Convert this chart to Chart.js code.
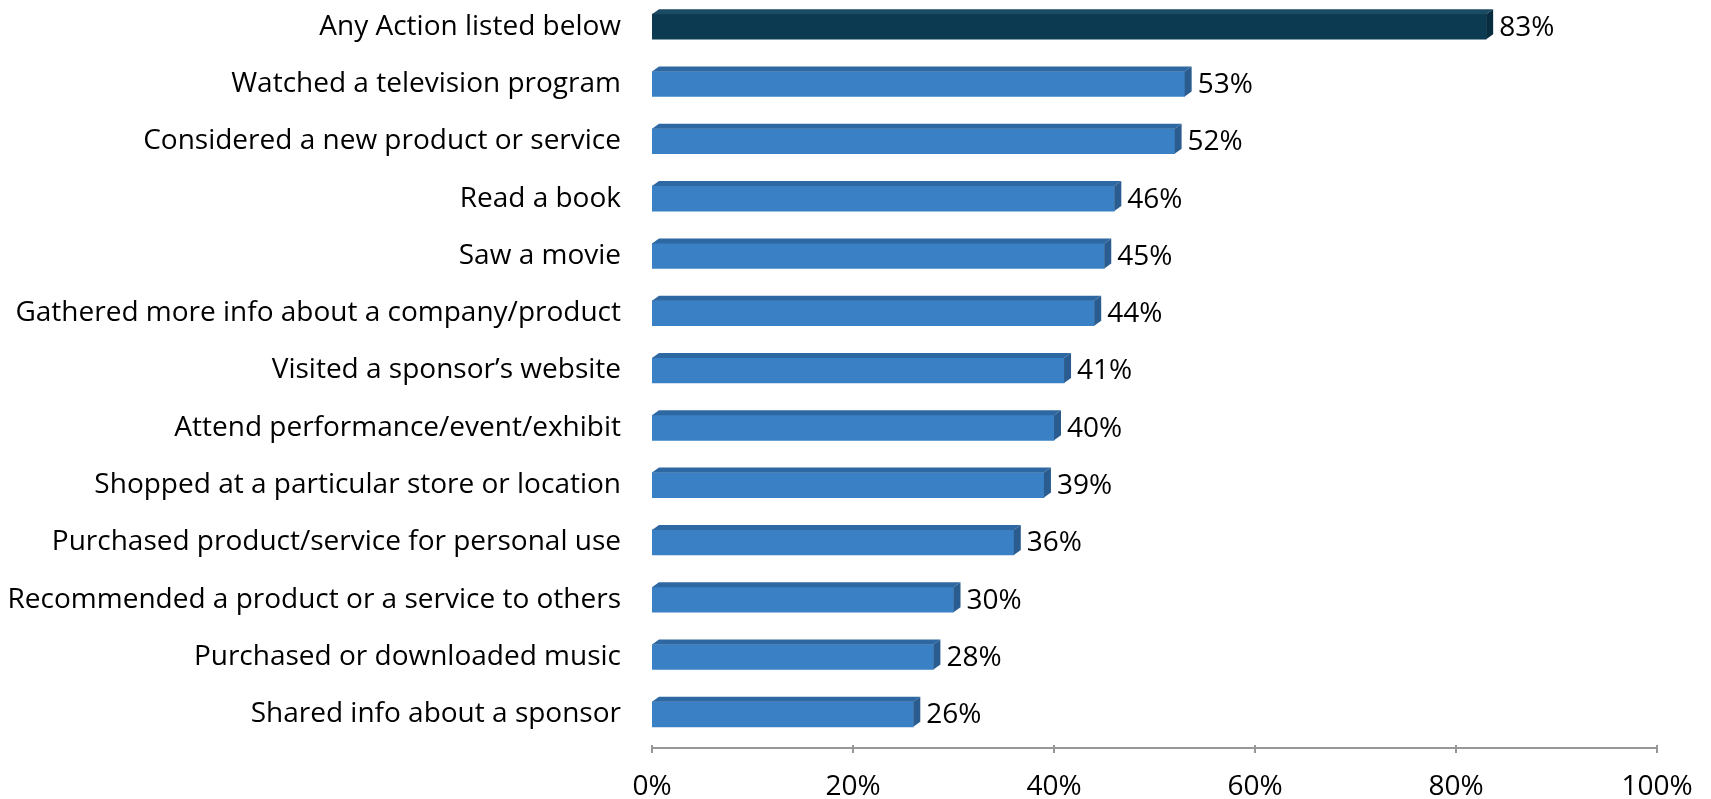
<!DOCTYPE html>
<html lang="en">
<head>
  <meta charset="UTF-8">
  <title>Actions Taken</title>
  <script src="https://cdn.jsdelivr.net/npm/chart.js"></script>
  <style>
    html, body {
      margin: 0;
      padding: 0;
      background: #ffffff;
      overflow: hidden;
    }
    .chart-wrap {
      position: absolute;
      left: 0;
      top: -2px;
      width: 1711px;
      height: 801px;
    }
  </style>
</head>
<body>
  <div class="chart-wrap">
    <canvas id="actionsChart"></canvas>
  </div>
  <script>
    const categories = [
      'Any Action listed below',
      'Watched a television program',
      'Considered a new product or service',
      'Read a book',
      'Saw a movie',
      'Gathered more info about a company/product',
      'Visited a sponsor\u2019s website',
      'Attend performance/event/exhibit',
      'Shopped at a particular store or location',
      'Purchased product/service for personal use',
      'Recommended a product or a service to others',
      'Purchased or downloaded music',
      'Shared info about a sponsor'
    ];
    const percentages = [83, 53, 52, 46, 45, 44, 41, 40, 39, 36, 30, 28, 26];
    const axisTicks = [0, 20, 40, 60, 80, 100];

    const FONT = '"Open Sans", "Noto Sans", sans-serif';
    const FONT_SIZE = 28;
    const DEPTH_X = 7;
    const DEPTH_Y = 5;

    // front, top and side colours: first bar is the highlighted total
    const faceColors = categories.map((c, i) => i === 0
      ? { front: '#0b3a51', top: '#1b4b62', side: '#072d3f' }
      : { front: '#3a80c4', top: '#2e68a2', side: '#2a5c8f' });

    // draws the top and side faces of every bar plus its value label
    const bar3d = {
      id: 'bar3d',
      afterDatasetsDraw(chart) {
        const ctx = chart.ctx;
        const meta = chart.getDatasetMeta(0);
        ctx.save();
        meta.data.forEach((bar, i) => {
          const p = bar.getProps(['x', 'y', 'base', 'height'], true);
          const top = p.y - p.height / 2;
          const bottom = p.y + p.height / 2;
          const c = faceColors[i];

          ctx.fillStyle = c.top;
          ctx.beginPath();
          ctx.moveTo(p.base, top);
          ctx.lineTo(p.base + DEPTH_X, top - DEPTH_Y);
          ctx.lineTo(p.x + DEPTH_X, top - DEPTH_Y);
          ctx.lineTo(p.x, top);
          ctx.closePath();
          ctx.fill();

          ctx.fillStyle = c.side;
          ctx.beginPath();
          ctx.moveTo(p.x, top);
          ctx.lineTo(p.x + DEPTH_X, top - DEPTH_Y);
          ctx.lineTo(p.x + DEPTH_X, bottom - DEPTH_Y);
          ctx.lineTo(p.x, bottom);
          ctx.closePath();
          ctx.fill();

          ctx.fillStyle = '#000000';
          ctx.font = FONT_SIZE + 'px ' + FONT;
          ctx.textAlign = 'left';
          ctx.textBaseline = 'middle';
          ctx.fillText(percentages[i] + '%', p.x + DEPTH_X + 6, p.y + 1);
        });
        ctx.restore();
      }
    };

    // value axis line sits on the floor, below the bars' depth
    const floorAxis = {
      id: 'floorAxis',
      afterDraw(chart) {
        const ctx = chart.ctx;
        const xs = chart.scales.x;
        const y = chart.chartArea.bottom + DEPTH_Y;
        ctx.save();
        ctx.strokeStyle = '#979797';
        ctx.lineWidth = 2;
        ctx.beginPath();
        ctx.moveTo(xs.getPixelForValue(0), y);
        ctx.lineTo(xs.getPixelForValue(100), y);
        axisTicks.forEach(v => {
          const x = xs.getPixelForValue(v);
          ctx.moveTo(x, y - 3);
          ctx.lineTo(x, y + 5);
        });
        ctx.stroke();
        ctx.restore();
      }
    };

    new Chart(document.getElementById('actionsChart').getContext('2d'), {
      type: 'bar',
      data: {
        labels: categories,
        datasets: [{
          data: percentages,
          backgroundColor: faceColors.map(c => c.front),
          barThickness: 25
        }]
      },
      options: {
        indexAxis: 'y',
        responsive: true,
        maintainAspectRatio: false,
        animation: false,
        layout: { padding: { right: 54, top: 0, left: 0, bottom: 0 } },
        plugins: {
          legend: { display: false },
          tooltip: { enabled: false }
        },
        scales: {
          x: {
            min: 0,
            max: 100,
            afterBuildTicks(scale) {
              scale.ticks = axisTicks.map(v => ({ value: v }));
            },
            afterFit(scale) {
              scale.height = 56;
              scale.paddingLeft = 0;
              scale.paddingRight = 0;
            },
            grid: { display: false, drawTicks: false },
            border: { display: false },
            ticks: {
              padding: 27,
              color: '#000000',
              font: { family: FONT, size: FONT_SIZE },
              callback: v => v + '%'
            }
          },
          y: {
            afterFit(scale) {
              scale.width = 652;
              scale.paddingTop = 0;
              scale.paddingBottom = 0;
            },
            grid: { display: false, drawTicks: false },
            border: { display: false },
            ticks: {
              padding: 31,
              color: '#000000',
              font: { family: FONT, size: FONT_SIZE }
            }
          }
        }
      },
      plugins: [bar3d, floorAxis]
    });
  </script>
</body>
</html>
